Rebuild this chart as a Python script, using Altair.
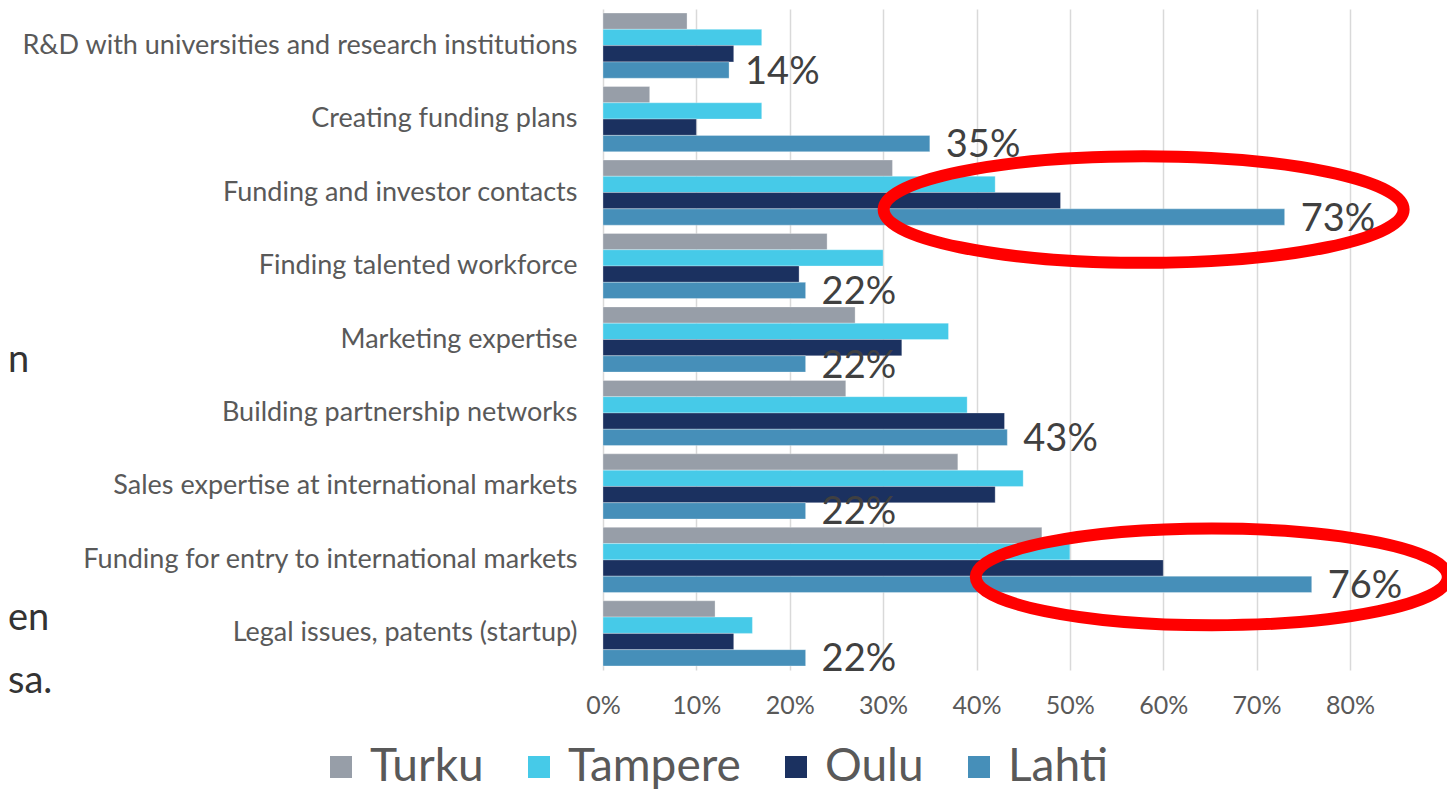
import altair as alt
import pandas as pd

categories = [
    "R&D with universities and research institutions",
    "Creating funding plans",
    "Funding and investor contacts",
    "Finding talented workforce",
    "Marketing expertise",
    "Building partnership networks",
    "Sales expertise at international markets",
    "Funding for entry to international markets",
    "Legal issues, patents (startup)",
]
series = ["Turku", "Tampere", "Oulu", "Lahti"]
colors = ["#979EA8", "#46CAE8", "#1B3160", "#468FB9"]

turku = [9, 5, 31, 24, 27, 26, 38, 47, 12]
tampere = [17, 17, 42, 30, 37, 39, 45, 50, 16]
oulu = [14, 10, 49, 21, 32, 43, 42, 60, 14]
lahti = [13.5, 35, 73, 21.7, 21.7, 43.3, 21.7, 75.9, 21.7]
lahti_labels = ["14%", "35%", "73%", "22%", "22%", "43%", "22%", "76%", "22%"]

# red ellipse highlights (category, centre value in %)
highlight_cats = ["Funding and investor contacts", "Funding for entry to international markets"]
highlight_centers = [57.9, 65.2]
highlight_sizes = [520 ** 2, 472 ** 2]

# cut-off slide text fragments on the left edge
fragments = ["n", "en", "sa."]
fragment_y = [352, 610, 673]

rows = []
for name, vals in zip(series, [turku, tampere, oulu, lahti]):
    for c, v in zip(categories, vals):
        rows.append({"cat": c, "series": name, "value": v})
df = pd.DataFrame(rows)
lab_df = pd.DataFrame({"cat": categories, "value": lahti, "label": lahti_labels})
ell_df = pd.DataFrame({"cat": highlight_cats, "value": highlight_centers, "size": highlight_sizes})
frag_df = pd.DataFrame({"t": fragments, "py": fragment_y})

FONT = "Lato"

y_enc = alt.Y(
    "cat:N",
    sort=categories,
    scale=alt.Scale(paddingInner=0.113, paddingOuter=0.055),
    axis=alt.Axis(
        title=None, ticks=False, domain=False, labelFontSize=27, labelColor="#595959",
        labelFont=FONT, labelPadding=26, labelLimit=1000,
    ),
)
x_scale = alt.Scale(domain=[0, 80], nice=False)

bars = alt.Chart(df).mark_bar(stroke="white", strokeWidth=0.6, strokeOpacity=0.5).encode(
    x=alt.X(
        "value:Q", scale=x_scale,
        axis=alt.Axis(
            title=None, values=list(range(0, 81, 10)), labelExpr="datum.value + '%'",
            grid=True, gridColor="#D9D9D9", gridWidth=1.5, domain=False, ticks=False,
            labelFontSize=25, labelColor="#595959", labelFont=FONT, labelPadding=23,
            labelFlush=False,
        ),
    ),
    y=y_enc,
    yOffset=alt.YOffset("series:N", sort=series),
    color=alt.Color(
        "series:N", sort=series, scale=alt.Scale(domain=series, range=colors),
        legend=alt.Legend(
            title=None, orient="none", direction="horizontal", legendX=-285, legendY=735,
            padding=0, symbolType="square", symbolSize=484, symbolStrokeWidth=0,
            labelFontSize=46, labelFont=FONT, labelColor="#595959", labelOffset=6,
            labelLimit=500, columnPadding=32,
        ),
    ),
)

labels = alt.Chart(lab_df).mark_text(
    align="left", baseline="middle", dx=16, dy=27, fontSize=38, font=FONT, color="#404040"
).encode(
    x=alt.X("value:Q", scale=x_scale),
    y=alt.Y("cat:N", sort=categories),
    text="label:N",
)

ellipse_path = "M-1,0 A1,0.205 0 1,1 1,0 A1,0.205 0 1,1 -1,0 Z"
ellipses = alt.Chart(ell_df).mark_point(
    shape=ellipse_path, filled=False, stroke="#FF0000", strokeWidth=12, opacity=1, yOffset=17
).encode(
    x=alt.X("value:Q", scale=x_scale),
    y=alt.Y("cat:N", sort=categories),
    size=alt.Size("size:Q", scale=None, legend=None),
)

frags = alt.Chart(frag_df).mark_text(
    align="left", baseline="middle", fontSize=38, font=FONT, color="#333333"
).encode(
    x=alt.value(-595),
    y=alt.Y("py:Q", scale=None),
    text="t:N",
)

chart = alt.layer(bars, labels, ellipses, frags).properties(
    width=747,
    height=661,
    padding={"left": 595, "top": 1, "right": 97, "bottom": 120},
    autosize=alt.AutoSizeParams(type="none"),
).configure_view(stroke=None)

chart.save("out.html", embed_options={"renderer": "svg", "actions": False})
